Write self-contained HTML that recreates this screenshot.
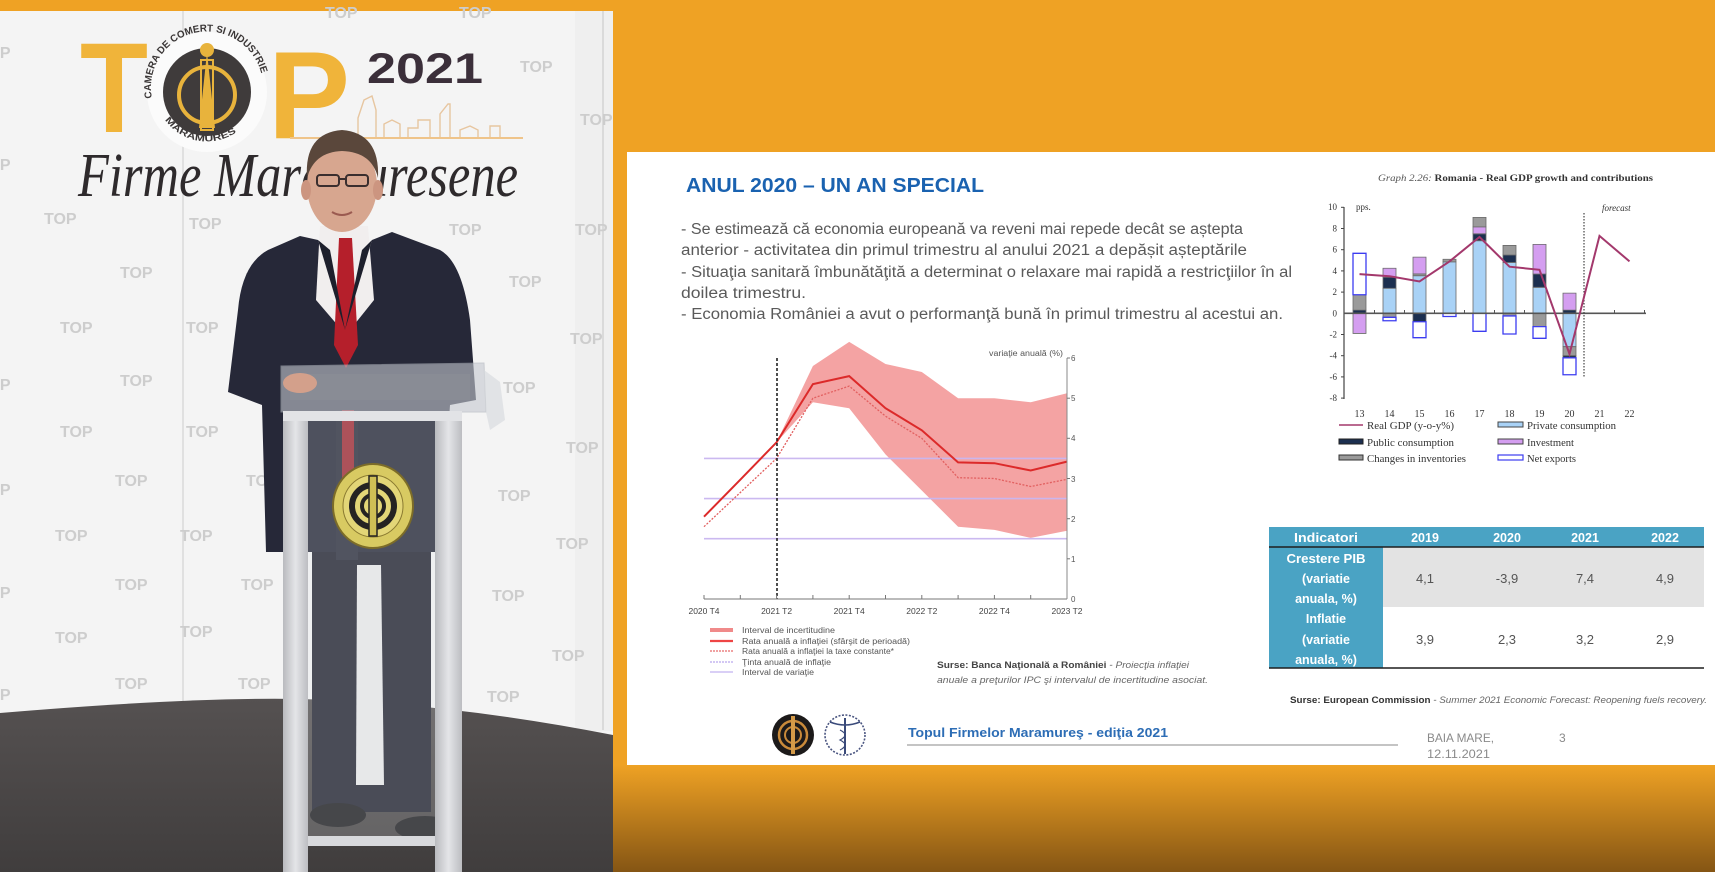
<!DOCTYPE html>
<html><head><meta charset="utf-8"><style>
html,body{margin:0;padding:0;background:#efa224;}
svg{display:block;}
</style></head><body>
<svg width="1715" height="872" viewBox="0 0 1715 872" xmlns="http://www.w3.org/2000/svg">
<defs>
<linearGradient id="bot" x1="0" y1="0" x2="0" y2="1"><stop offset="0" stop-color="#efa224"/><stop offset="1" stop-color="#855514"/></linearGradient>
<linearGradient id="pil" x1="0" x2="1" y1="0" y2="0"><stop offset="0" stop-color="#b9babe"/><stop offset="0.5" stop-color="#e4e5e8"/><stop offset="1" stop-color="#bcbdc1"/></linearGradient>
<linearGradient id="floor" x1="0" y1="0" x2="0" y2="1"><stop offset="0" stop-color="#555151"/><stop offset="1" stop-color="#403d3d"/></linearGradient>
<path id="arcTop" d="M152,98 A56,56 0 1,1 262,98"/>
<path id="arcBot" d="M165,120 A52,52 0 0,0 249,120"/>
</defs>

<rect x="0" y="0" width="1715" height="872" fill="#efa224"/>
<rect x="613" y="765" width="1102" height="107" fill="url(#bot)"/>

<!-- ================= PHOTO ================= -->
<g>
<rect x="0" y="11" width="613" height="861" fill="#f4f4f4"/>
<rect x="575" y="11" width="38" height="720" fill="#efefef"/>
<line x1="183" y1="11" x2="183" y2="705" stroke="#dadada" stroke-width="1.5"/>
<line x1="603" y1="11" x2="603" y2="730" stroke="#d4d4d4" stroke-width="1.5"/>
<g font-family="Liberation Sans, sans-serif" font-weight="bold" font-size="16" fill="#cdcdcd">
<text x="44" y="224">TOP</text><text x="189" y="229">TOP</text><text x="325" y="18">TOP</text><text x="459" y="18">TOP</text>
<text x="520" y="72">TOP</text><text x="580" y="125">TOP</text><text x="449" y="235">TOP</text><text x="575" y="235">TOP</text>
<text x="120" y="278">TOP</text><text x="246" y="284">TOP</text><text x="509" y="287">TOP</text><text x="60" y="333">TOP</text>
<text x="186" y="333">TOP</text><text x="570" y="344">TOP</text><text x="120" y="386">TOP</text><text x="503" y="393">TOP</text>
<text x="60" y="437">TOP</text><text x="186" y="437">TOP</text><text x="566" y="453">TOP</text><text x="115" y="486">TOP</text>
<text x="246" y="486">TOP</text><text x="498" y="501">TOP</text><text x="55" y="541">TOP</text><text x="180" y="541">TOP</text>
<text x="556" y="549">TOP</text><text x="115" y="590">TOP</text><text x="241" y="590">TOP</text><text x="492" y="601">TOP</text>
<text x="55" y="643">TOP</text><text x="180" y="637">TOP</text><text x="552" y="661">TOP</text><text x="115" y="689">TOP</text>
<text x="238" y="689">TOP</text><text x="487" y="702">TOP</text>
<text x="-22" y="58">TOP</text><text x="-22" y="170">TOP</text><text x="-22" y="390">TOP</text><text x="-22" y="495">TOP</text><text x="-22" y="598">TOP</text><text x="-22" y="700">TOP</text>
</g>

<!-- logo -->
<text x="80" y="132" font-family="Liberation Sans, sans-serif" font-weight="bold" font-size="128" fill="#f0b43a" textLength="68" lengthAdjust="spacingAndGlyphs">T</text>
<circle cx="207" cy="92" r="60" fill="#fbfbfb"/>
<text font-family="Liberation Sans, sans-serif" font-weight="bold" font-size="10" fill="#3a3636"><textPath href="#arcTop" textLength="172" lengthAdjust="spacingAndGlyphs">CAMERA DE COMERT SI INDUSTRIE</textPath></text>
<text font-family="Liberation Sans, sans-serif" font-weight="bold" font-size="9" fill="#3a3636"><textPath href="#arcBot" textLength="80" lengthAdjust="spacingAndGlyphs">MARAMURES</textPath></text>
<circle cx="207" cy="92" r="44" fill="#3f3b3b"/>
<circle cx="207" cy="95" r="28" fill="none" stroke="#e8b33c" stroke-width="4"/>
<polygon points="207,52 215,128 199,128" fill="#e8b33c"/>
<circle cx="207" cy="50" r="7" fill="#e8b33c"/>
<rect x="201" y="60" width="12" height="70" fill="none" stroke="#e8b33c" stroke-width="2"/>
<text x="268" y="138" font-family="Liberation Sans, sans-serif" font-weight="bold" font-size="124" fill="#f0b43a" textLength="82" lengthAdjust="spacingAndGlyphs">P</text>
<text x="367" y="83" font-family="Liberation Sans, sans-serif" font-weight="bold" font-size="43" fill="#3b2f3a" textLength="116" lengthAdjust="spacingAndGlyphs">2021</text>
<polyline points="358,138 358,118 364,100 372,96 376,110 376,138 384,138 384,124 392,120 400,124 400,138 408,138 408,128 418,128 418,120 430,120 430,138 440,138 440,114 448,104 450,104 450,138 460,138 460,130 470,126 478,130 478,138 490,138 490,126 500,126 500,138" fill="none" stroke="#e7c6a0" stroke-width="1.4"/>
<line x1="290" y1="138" x2="523" y2="138" stroke="#efc48a" stroke-width="2"/>
<text x="78" y="196" font-family="Liberation Serif, serif" font-style="italic" font-size="62" fill="#2e2a2c" textLength="440" lengthAdjust="spacingAndGlyphs">Firme Maramuresene</text>

<!-- floor -->
<path d="M0,713 Q190,697 300,699 Q450,703 613,735 L613,872 L0,872 Z" fill="url(#floor)"/>

<!-- person -->
<path d="M300,236 L268,250 Q242,264 238,310 L228,392 L262,405 L266,552 L440,552 L450,405 L476,400 L470,320 Q462,262 440,250 L392,232 L372,240 L345,330 L318,240 Z" fill="#262838"/>
<polygon points="320,226 368,226 374,300 346,335 316,300" fill="#f1eeee"/>
<polygon points="339,238 352,238 358,345 346,368 334,345" fill="#b51f2b"/>
<path d="M318,240 L345,330 L330,250 Z" fill="#1d1f2c"/>
<path d="M372,240 L345,330 L362,250 Z" fill="#1d1f2c"/>
<ellipse cx="342" cy="186" rx="35" ry="46" fill="#d7a68f"/>
<path d="M307,178 Q304,133 342,130 Q380,133 378,178 Q372,152 342,151 Q314,152 307,178 Z" fill="#5a473b"/>
<ellipse cx="306" cy="190" rx="5" ry="10" fill="#cc9580"/>
<ellipse cx="378" cy="190" rx="5" ry="10" fill="#cc9580"/>
<rect x="317" y="175" width="22" height="11" rx="3" fill="none" stroke="#3a2e2e" stroke-width="2"/>
<rect x="346" y="175" width="22" height="11" rx="3" fill="none" stroke="#3a2e2e" stroke-width="2"/>
<line x1="339" y1="179" x2="346" y2="179" stroke="#3a2e2e" stroke-width="2"/>
<path d="M332,212 Q342,218 352,212" fill="none" stroke="#9a5a50" stroke-width="2"/>
<!-- legs -->
<rect x="312" y="552" width="119" height="260" fill="#20222f"/>
<polygon points="357,565 381,565 384,785 356,785" fill="#eaeaea"/>
<rect x="336" y="410" width="22" height="150" fill="#2a2c3a"/>
<rect x="342" y="410" width="12" height="90" fill="#9f2a33"/>
<ellipse cx="338" cy="815" rx="28" ry="12" fill="#1b1b1e"/>
<ellipse cx="425" cy="828" rx="30" ry="12" fill="#1b1b1e"/>

<!-- podium -->
<rect x="308" y="420" width="127" height="420" fill="#dfe2e8" opacity="0.22"/>
<polygon points="281,366 484,363 486,412 281,412" fill="#c4c8d0" opacity="0.6" stroke="#aeb2ba" stroke-width="1"/>
<rect x="290" y="374" width="180" height="26" fill="#8f9298" opacity="0.45"/>
<polygon points="484,370 500,382 505,420 490,430 486,412" fill="#d8dbe0" opacity="0.7"/>
<ellipse cx="300" cy="383" rx="17" ry="10" fill="#d3a08b"/>
<rect x="283" y="411" width="25" height="461" fill="url(#pil)"/>
<rect x="435" y="411" width="27" height="461" fill="url(#pil)"/>
<rect x="283" y="411" width="179" height="10" fill="#e2e3e6"/>
<rect x="308" y="836" width="127" height="10" fill="#d8d9dc"/>
<ellipse cx="373" cy="506" rx="40" ry="42" fill="#d8ca62" stroke="#7c6c28" stroke-width="2"/>
<ellipse cx="373" cy="506" rx="30" ry="31" fill="#e3d677" stroke="#8a7a30" stroke-width="1"/>
<circle cx="373" cy="506" r="21" fill="none" stroke="#252322" stroke-width="6"/>
<circle cx="373" cy="506" r="11" fill="none" stroke="#252322" stroke-width="4"/>
<rect x="369" y="476" width="8" height="60" fill="#cfbf55" stroke="#252322" stroke-width="1.5"/>
</g>

<!-- ================= SLIDE ================= -->
<rect x="627" y="152" width="1088" height="613" fill="#ffffff"/>

<text x="686" y="192" font-family="Liberation Sans, sans-serif" font-weight="bold" font-size="20" fill="#1a62b0" textLength="298" lengthAdjust="spacingAndGlyphs">ANUL 2020 – UN AN SPECIAL</text>
<g font-family="Liberation Sans, sans-serif" font-size="15.5" fill="#5a5a5a">
<text x="681" y="234" textLength="562" lengthAdjust="spacingAndGlyphs">- Se estimează că economia europeană va reveni mai repede decât se aștepta</text>
<text x="681" y="255" textLength="566" lengthAdjust="spacingAndGlyphs">anterior - activitatea din primul trimestru al anului 2021 a depășit așteptările</text>
<text x="681" y="277" textLength="611" lengthAdjust="spacingAndGlyphs">- Situaţia sanitară îmbunătăţită a determinat o relaxare mai rapidă a restricţiilor în al</text>
<text x="681" y="298" textLength="125" lengthAdjust="spacingAndGlyphs">doilea trimestru.</text>
<text x="681" y="319" textLength="602" lengthAdjust="spacingAndGlyphs">- Economia României a avut o performanţă bună în primul trimestru al acestui an.</text>
</g>

<!-- ===== Left chart (BNR) ===== -->
<polygon points="776.6,442.3 812.9,366.0 849.2,341.9 885.5,364.0 921.8,372.0 958.1,398.2 994.4,398.2 1030.7,402.2 1067,393.3 1067,530.7 1030.7,537.9 994.4,529.9 958.1,526.7 921.8,490.5 885.5,454.4 849.2,408.2 812.9,402.2 776.6,442.3" fill="#f4a3a3"/>
<g stroke="#c9b6f0" stroke-width="1.6" opacity="0.95">
<line x1="704" y1="458.4" x2="1067" y2="458.4"/>
<line x1="704" y1="498.6" x2="1067" y2="498.6"/>
<line x1="704" y1="538.7" x2="1067" y2="538.7"/>
</g>
<polyline points="704,526.7 740.3,492.5 776.6,458.4 812.9,398.2 849.2,386.1 885.5,416.2 921.8,438.3 958.1,477.7 994.4,478.5 1030.7,486.5 1067,479.3" fill="none" stroke="#e26060" stroke-width="1.3" stroke-dasharray="2,1.5"/>
<polyline points="704,516.7 740.3,479.7 776.6,442.3 812.9,384.1 849.2,376.1 885.5,408.2 921.8,430.3 958.1,462.4 994.4,463.2 1030.7,470.5 1067,461.6" fill="none" stroke="#dc2a2a" stroke-width="2"/>
<line x1="777" y1="358" x2="777" y2="599" stroke="#222" stroke-width="1.6" stroke-dasharray="3,2"/>
<line x1="704" y1="599" x2="1067" y2="599" stroke="#777" stroke-width="1"/>
<line x1="1067" y1="358" x2="1067" y2="599" stroke="#888" stroke-width="1"/>
<g stroke="#777" stroke-width="1">
<line x1="704" y1="599" x2="704" y2="595"/><line x1="740.3" y1="599" x2="740.3" y2="595"/><line x1="776.6" y1="599" x2="776.6" y2="595"/><line x1="812.9" y1="599" x2="812.9" y2="595"/><line x1="849.2" y1="599" x2="849.2" y2="595"/><line x1="885.5" y1="599" x2="885.5" y2="595"/><line x1="921.8" y1="599" x2="921.8" y2="595"/><line x1="958.1" y1="599" x2="958.1" y2="595"/><line x1="994.4" y1="599" x2="994.4" y2="595"/><line x1="1030.7" y1="599" x2="1030.7" y2="595"/>
<line x1="1067" y1="558.8" x2="1070" y2="558.8"/><line x1="1067" y1="518.7" x2="1070" y2="518.7"/><line x1="1067" y1="478.5" x2="1070" y2="478.5"/><line x1="1067" y1="438.3" x2="1070" y2="438.3"/><line x1="1067" y1="398.2" x2="1070" y2="398.2"/><line x1="1067" y1="358" x2="1070" y2="358"/>
</g>
<g font-family="Liberation Sans, sans-serif" font-size="8" fill="#555">
<text x="1071" y="602">0</text><text x="1071" y="562">1</text><text x="1071" y="522">2</text><text x="1071" y="482">3</text><text x="1071" y="441">4</text><text x="1071" y="401">5</text><text x="1071" y="361">6</text>
<text x="989" y="356" textLength="74" lengthAdjust="spacingAndGlyphs">variaţie anuală (%)</text>
</g>
<g font-family="Liberation Sans, sans-serif" font-size="8.5" fill="#444" text-anchor="middle">
<text x="704" y="614">2020 T4</text><text x="776.6" y="614">2021 T2</text><text x="849.2" y="614">2021 T4</text><text x="921.8" y="614">2022 T2</text><text x="994.4" y="614">2022 T4</text><text x="1067" y="614">2023 T2</text>
</g>
<!-- legend -->
<rect x="710" y="628" width="23" height="4" fill="#f08a8a"/>
<line x1="710" y1="641" x2="733" y2="641" stroke="#ee4545" stroke-width="2.2"/>
<line x1="710" y1="651" x2="733" y2="651" stroke="#e66a6a" stroke-width="1.3" stroke-dasharray="2,1"/>
<line x1="710" y1="662" x2="733" y2="662" stroke="#b9a6ee" stroke-width="1.3" stroke-dasharray="2,1"/>
<line x1="710" y1="672" x2="733" y2="672" stroke="#c2b2f0" stroke-width="1.2"/>
<g font-family="Liberation Sans, sans-serif" font-size="8" fill="#555">
<text x="742" y="633" textLength="93" lengthAdjust="spacingAndGlyphs">Interval de incertitudine</text>
<text x="742" y="644" textLength="168" lengthAdjust="spacingAndGlyphs">Rata anuală a inflaţiei (sfârşit de perioadă)</text>
<text x="742" y="654" textLength="152" lengthAdjust="spacingAndGlyphs">Rata anuală a inflaţiei la taxe constante*</text>
<text x="742" y="665" textLength="89" lengthAdjust="spacingAndGlyphs">Ţinta anuală de inflaţie</text>
<text x="742" y="675" textLength="72" lengthAdjust="spacingAndGlyphs">Interval de variaţie</text>
</g>
<text x="937" y="668" font-family="Liberation Sans, sans-serif" font-size="9" fill="#555" textLength="252" lengthAdjust="spacingAndGlyphs"><tspan font-weight="bold" fill="#444">Surse: Banca Naţională a  României</tspan><tspan font-style="italic" fill="#666"> - Proiecţia inflaţiei</tspan></text>
<text x="937" y="683" font-family="Liberation Sans, sans-serif" font-size="9" font-style="italic" fill="#666" textLength="271" lengthAdjust="spacingAndGlyphs">anuale a preţurilor IPC şi intervalul de incertitudine asociat.</text>

<!-- ===== Right chart (EC) ===== -->
<text x="1378" y="181" font-family="Liberation Serif, serif" font-size="9.5" fill="#333" textLength="275" lengthAdjust="spacingAndGlyphs"><tspan font-style="italic" fill="#555">Graph 2.26: </tspan><tspan font-weight="bold">Romania - Real GDP growth and contributions</tspan></text>
<text x="1356" y="210" font-family="Liberation Serif, serif" font-size="9" fill="#333">pps.</text>
<text x="1602" y="211" font-family="Liberation Serif, serif" font-size="9" font-style="italic" fill="#333">forecast</text>
<line x1="1344" y1="207" x2="1344" y2="399" stroke="#444" stroke-width="1.2"/>
<g stroke="#444" stroke-width="1">
<line x1="1341" y1="207.3" x2="1344" y2="207.3"/><line x1="1341" y1="228.5" x2="1344" y2="228.5"/><line x1="1341" y1="249.7" x2="1344" y2="249.7"/><line x1="1341" y1="270.9" x2="1344" y2="270.9"/><line x1="1341" y1="292.1" x2="1344" y2="292.1"/><line x1="1341" y1="334.5" x2="1344" y2="334.5"/><line x1="1341" y1="355.7" x2="1344" y2="355.7"/><line x1="1341" y1="376.9" x2="1344" y2="376.9"/><line x1="1341" y1="398.1" x2="1344" y2="398.1"/>
</g>
<g font-family="Liberation Serif, serif" font-size="9" fill="#333" text-anchor="end">
<text x="1337" y="210">10</text><text x="1337" y="231.5">8</text><text x="1337" y="252.7">6</text><text x="1337" y="273.9">4</text><text x="1337" y="295.1">2</text><text x="1337" y="316.3">0</text><text x="1337" y="337.5">-2</text><text x="1337" y="358.7">-4</text><text x="1337" y="379.9">-6</text><text x="1337" y="401.1">-8</text>
</g>
<!-- bars in value space -->
<g transform="translate(0,313.3) scale(1,-10.6)" stroke-width="0.8">
<g stroke="#6a6a6a">
<rect x="1353" y="0" width="13" height="0.3" fill="#1c2f50" vector-effect="non-scaling-stroke"/>
<rect x="1353" y="0.3" width="13" height="1.45" fill="#9a9a9a" vector-effect="non-scaling-stroke"/>
<rect x="1353" y="-1.9" width="13" height="1.9" fill="#d49ef0" vector-effect="non-scaling-stroke"/>
<rect x="1383" y="0" width="13" height="2.36" fill="#a9d2f6" vector-effect="non-scaling-stroke"/>
<rect x="1383" y="2.36" width="13" height="1.04" fill="#1c2f50" vector-effect="non-scaling-stroke"/>
<rect x="1383" y="3.4" width="13" height="0.85" fill="#d49ef0" vector-effect="non-scaling-stroke"/>
<rect x="1383" y="-0.38" width="13" height="0.38" fill="#9a9a9a" vector-effect="non-scaling-stroke"/>
<rect x="1413" y="0" width="13" height="3.55" fill="#a9d2f6" vector-effect="non-scaling-stroke"/>
<rect x="1413" y="3.55" width="13" height="0.17" fill="#9a9a9a" vector-effect="non-scaling-stroke"/>
<rect x="1413" y="3.72" width="13" height="1.58" fill="#d49ef0" vector-effect="non-scaling-stroke"/>
<rect x="1413" y="-0.8" width="13" height="0.8" fill="#1c2f50" vector-effect="non-scaling-stroke"/>
<rect x="1443" y="0" width="13" height="4.85" fill="#a9d2f6" vector-effect="non-scaling-stroke"/>
<rect x="1443" y="4.85" width="13" height="0.25" fill="#9a9a9a" vector-effect="non-scaling-stroke"/>
<rect x="1473" y="0" width="13" height="6.85" fill="#a9d2f6" vector-effect="non-scaling-stroke"/>
<rect x="1473" y="6.85" width="13" height="0.65" fill="#1c2f50" vector-effect="non-scaling-stroke"/>
<rect x="1473" y="7.5" width="13" height="0.65" fill="#d49ef0" vector-effect="non-scaling-stroke"/>
<rect x="1473" y="8.15" width="13" height="0.9" fill="#9a9a9a" vector-effect="non-scaling-stroke"/>
<rect x="1503" y="0" width="13" height="4.8" fill="#a9d2f6" vector-effect="non-scaling-stroke"/>
<rect x="1503" y="4.8" width="13" height="0.7" fill="#1c2f50" vector-effect="non-scaling-stroke"/>
<rect x="1503" y="5.5" width="13" height="0.9" fill="#9a9a9a" vector-effect="non-scaling-stroke"/>
<rect x="1503" y="-0.25" width="13" height="0.25" fill="#9a9a9a" vector-effect="non-scaling-stroke"/>
<rect x="1533" y="0" width="13" height="2.45" fill="#a9d2f6" vector-effect="non-scaling-stroke"/>
<rect x="1533" y="2.45" width="13" height="1.25" fill="#1c2f50" vector-effect="non-scaling-stroke"/>
<rect x="1533" y="3.7" width="13" height="2.8" fill="#d49ef0" vector-effect="non-scaling-stroke"/>
<rect x="1533" y="-1.26" width="13" height="1.26" fill="#9a9a9a" vector-effect="non-scaling-stroke"/>
<rect x="1563" y="0" width="13" height="0.3" fill="#1c2f50" vector-effect="non-scaling-stroke"/>
<rect x="1563" y="0.3" width="13" height="1.6" fill="#d49ef0" vector-effect="non-scaling-stroke"/>
<rect x="1563" y="-3.15" width="13" height="3.15" fill="#a9d2f6" vector-effect="non-scaling-stroke"/>
<rect x="1563" y="-4.0" width="13" height="0.85" fill="#9a9a9a" vector-effect="non-scaling-stroke"/>
<rect x="1563" y="-4.2" width="13" height="0.2" fill="#1c2f50" vector-effect="non-scaling-stroke"/>
</g>
<g stroke="#3c3cf0" fill="#ffffff">
<rect x="1353" y="1.75" width="13" height="3.91" stroke-width="1.3" vector-effect="non-scaling-stroke"/>
<rect x="1383" y="-0.7" width="13" height="0.32" stroke-width="1.3" vector-effect="non-scaling-stroke"/>
<rect x="1413" y="-2.3" width="13" height="1.5" stroke-width="1.3" vector-effect="non-scaling-stroke"/>
<rect x="1443" y="-0.3" width="13" height="0.3" stroke-width="1.3" vector-effect="non-scaling-stroke"/>
<rect x="1473" y="-1.7" width="13" height="1.7" stroke-width="1.3" vector-effect="non-scaling-stroke"/>
<rect x="1503" y="-1.95" width="13" height="1.7" stroke-width="1.3" vector-effect="non-scaling-stroke"/>
<rect x="1533" y="-2.36" width="13" height="1.1" stroke-width="1.3" vector-effect="non-scaling-stroke"/>
<rect x="1563" y="-5.8" width="13" height="1.6" stroke-width="1.3" vector-effect="non-scaling-stroke"/>
</g>
</g>
<line x1="1344" y1="313.3" x2="1646" y2="313.3" stroke="#555" stroke-width="1.6"/>
<g stroke="#555" stroke-width="1">
<line x1="1374.5" y1="313" x2="1374.5" y2="310"/><line x1="1404.5" y1="313" x2="1404.5" y2="310"/><line x1="1434.5" y1="313" x2="1434.5" y2="310"/><line x1="1464.5" y1="313" x2="1464.5" y2="310"/><line x1="1494.5" y1="313" x2="1494.5" y2="310"/><line x1="1524.5" y1="313" x2="1524.5" y2="310"/><line x1="1554.5" y1="313" x2="1554.5" y2="310"/><line x1="1614.5" y1="313" x2="1614.5" y2="310"/><line x1="1644.5" y1="313" x2="1644.5" y2="310"/>
</g>
<line x1="1584" y1="213" x2="1584" y2="377" stroke="#444" stroke-width="1.2" stroke-dasharray="1.5,1.5"/>
<polyline points="1359.5,274.1 1389.5,276.2 1419.5,281.5 1449.5,261.4 1479.5,237.0 1509.5,266.7 1539.5,269.8 1569.5,354.1 1599.5,235.9 1629.5,261.4" fill="none" stroke="#a3386c" stroke-width="2"/>
<g font-family="Liberation Serif, serif" font-size="10" fill="#333" text-anchor="middle">
<text x="1359.5" y="417">13</text><text x="1389.5" y="417">14</text><text x="1419.5" y="417">15</text><text x="1449.5" y="417">16</text><text x="1479.5" y="417">17</text><text x="1509.5" y="417">18</text><text x="1539.5" y="417">19</text><text x="1569.5" y="417">20</text><text x="1599.5" y="417">21</text><text x="1629.5" y="417">22</text>
</g>
<!-- right legend -->
<line x1="1339" y1="425" x2="1363" y2="425" stroke="#a3386c" stroke-width="1.6"/>
<rect x="1498" y="422" width="25" height="5" fill="#a9d2f6" stroke="#444" stroke-width="1"/>
<rect x="1339" y="439" width="24" height="5" fill="#1c2f50" stroke="#222" stroke-width="1"/>
<rect x="1498" y="439" width="25" height="5" fill="#d49ef0" stroke="#444" stroke-width="1"/>
<rect x="1339" y="455" width="24" height="5" fill="#9a9a9a" stroke="#333" stroke-width="1"/>
<rect x="1498" y="455" width="25" height="5" fill="#ffffff" stroke="#3c3cf0" stroke-width="1.2"/>
<g font-family="Liberation Serif, serif" font-size="10.5" fill="#333">
<text x="1367" y="429" textLength="87" lengthAdjust="spacingAndGlyphs">Real GDP (y-o-y%)</text>
<text x="1527" y="429" textLength="89" lengthAdjust="spacingAndGlyphs">Private consumption</text>
<text x="1367" y="446" textLength="87" lengthAdjust="spacingAndGlyphs">Public consumption</text>
<text x="1527" y="446" textLength="47" lengthAdjust="spacingAndGlyphs">Investment</text>
<text x="1367" y="462" textLength="99" lengthAdjust="spacingAndGlyphs">Changes in inventories</text>
<text x="1527" y="462" textLength="49" lengthAdjust="spacingAndGlyphs">Net exports</text>
</g>

<!-- ===== Table ===== -->
<rect x="1269" y="527" width="435" height="20" fill="#4aa3c4"/>
<rect x="1269" y="547" width="114" height="121" fill="#4aa3c4"/>
<rect x="1383" y="547" width="321" height="60" fill="#e3e3e3"/>
<line x1="1269" y1="547" x2="1704" y2="547" stroke="#1e1e1e" stroke-width="1.5"/>
<line x1="1269" y1="668" x2="1704" y2="668" stroke="#1e1e1e" stroke-width="1.5"/>
<g font-family="Liberation Sans, sans-serif" font-weight="bold" font-size="12.5" fill="#ffffff" text-anchor="middle">
<text x="1326" y="542" textLength="64" lengthAdjust="spacingAndGlyphs">Indicatori</text>
<text x="1425" y="542">2019</text><text x="1507" y="542">2020</text><text x="1585" y="542">2021</text><text x="1665" y="542">2022</text>
<text x="1326" y="563" textLength="79" lengthAdjust="spacingAndGlyphs">Crestere PIB</text>
<text x="1326" y="583">(variatie</text>
<text x="1326" y="603">anuala, %)</text>
<text x="1326" y="623">Inflatie</text>
<text x="1326" y="644">(variatie</text>
<text x="1326" y="664">anuala, %)</text>
</g>
<g font-family="Liberation Sans, sans-serif" font-size="13" fill="#555" text-anchor="middle">
<text x="1425" y="583">4,1</text><text x="1507" y="583">-3,9</text><text x="1585" y="583">7,4</text><text x="1665" y="583">4,9</text>
<text x="1425" y="644">3,9</text><text x="1507" y="644">2,3</text><text x="1585" y="644">3,2</text><text x="1665" y="644">2,9</text>
</g>
<text x="1290" y="703" font-family="Liberation Sans, sans-serif" font-size="9.5" fill="#555" textLength="417" lengthAdjust="spacingAndGlyphs"><tspan font-weight="bold" fill="#333">Surse: European Commission</tspan><tspan font-style="italic" fill="#666"> - Summer 2021 Economic Forecast: Reopening fuels recovery.</tspan></text>

<!-- ===== Footer ===== -->
<circle cx="793" cy="735" r="21" fill="#1c1a1a"/>
<circle cx="793" cy="735" r="14" fill="none" stroke="#c98a3a" stroke-width="2.5"/>
<circle cx="793" cy="735" r="8" fill="none" stroke="#c98a3a" stroke-width="2"/>
<rect x="791" y="716" width="4" height="38" fill="#d49a48"/>
<circle cx="845" cy="735" r="20" fill="none" stroke="#4a5580" stroke-width="1.6" stroke-dasharray="2,1.5"/>
<line x1="845" y1="718" x2="845" y2="754" stroke="#3a4a7a" stroke-width="2"/>
<path d="M830,722 Q845,728 860,722" fill="none" stroke="#3a4a7a" stroke-width="1.5"/>
<path d="M840,730 Q850,735 840,740 Q850,745 840,750" fill="none" stroke="#3a4a7a" stroke-width="1.2"/>
<text x="908" y="737" font-family="Liberation Sans, sans-serif" font-weight="bold" font-size="13" fill="#2d6db5" textLength="260" lengthAdjust="spacingAndGlyphs">Topul Firmelor Maramureş - ediţia 2021</text>
<line x1="907" y1="745" x2="1398" y2="745" stroke="#8a8a8a" stroke-width="1"/>
<g font-family="Liberation Sans, sans-serif" font-size="12" fill="#8a8a8a">
<text x="1427" y="742" textLength="67" lengthAdjust="spacingAndGlyphs">BAIA MARE,</text>
<text x="1427" y="758" textLength="63" lengthAdjust="spacingAndGlyphs">12.11.2021</text>
<text x="1559" y="742">3</text>
</g>
</svg>
</body></html>
